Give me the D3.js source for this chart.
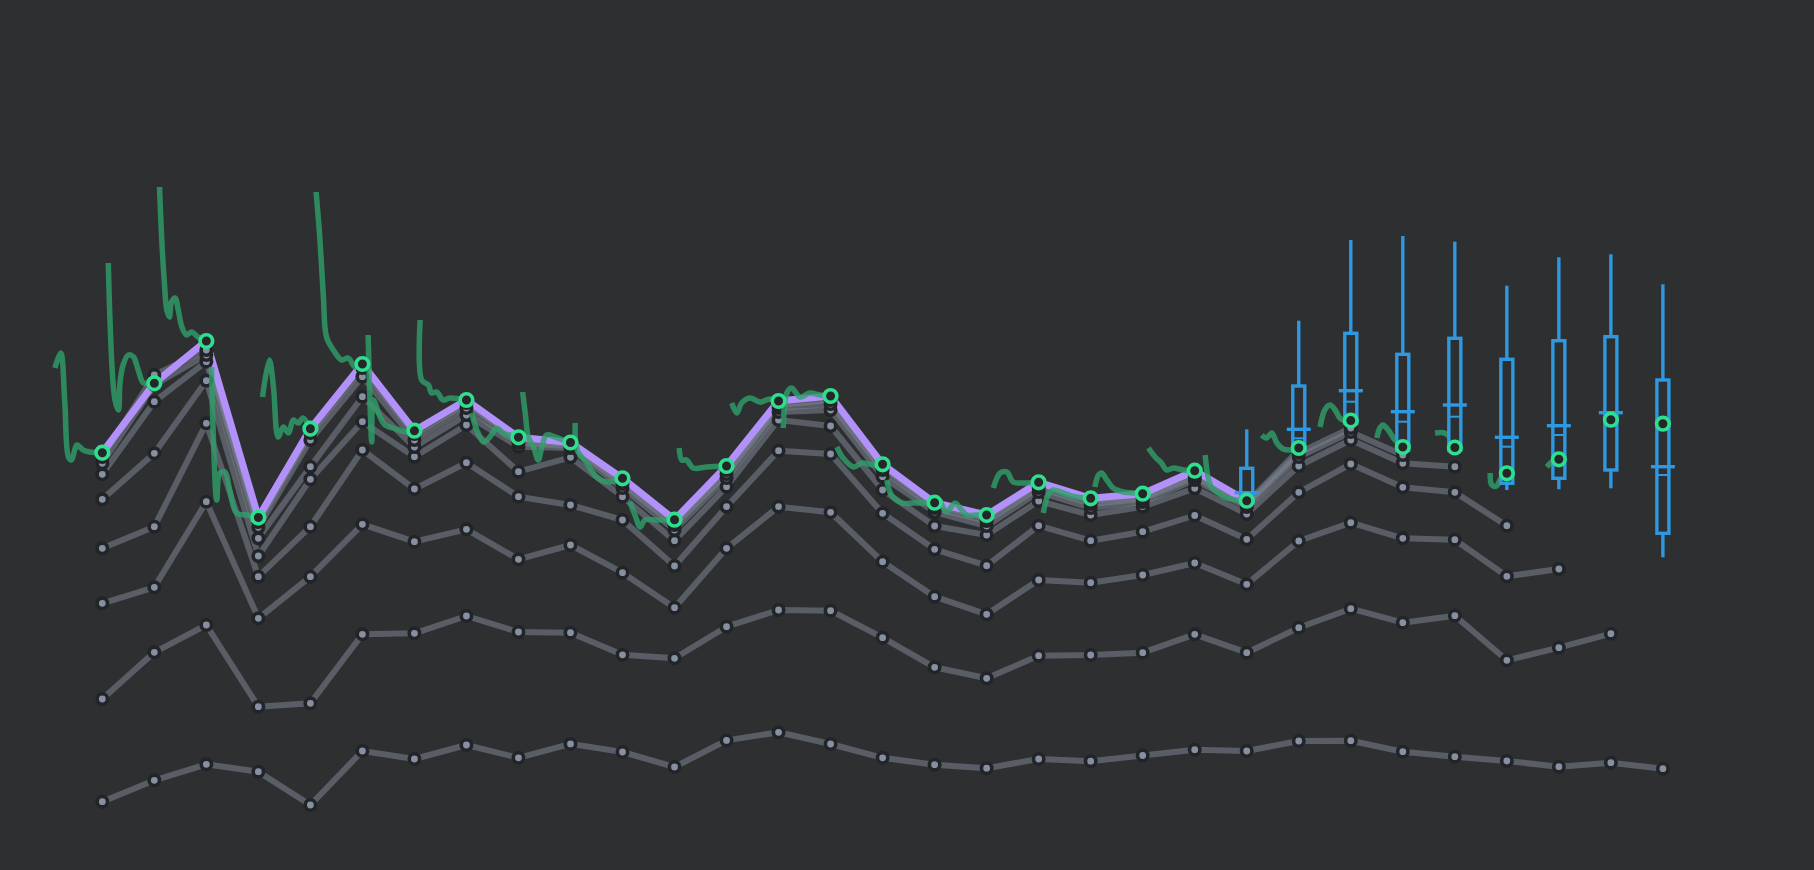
<!DOCTYPE html>
<html><head><meta charset="utf-8">
<script src="https://cdn.jsdelivr.net/npm/d3@7"></script>
<style>html,body{margin:0;padding:0;background:#2e2f31;overflow:hidden}</style>
</head><body><svg id="chart" width="1814" height="870"></svg>
<script>
// ---- data (values in chart units) ----
const periods = d3.range(31);

const current = [417.3, 486.7, 529, 352.5, 441.3, 506, 439.3, 470, 432.7, 427.5, 391.7, 350.3, 404, 469, 474, 405.7, 367.3, 355, 387.7, 371.7, 376.3, 399.3, 369.3];
const outlookStart = 23;
const outlook = [422, 449.5, 423, 422.5, 396.7, 410.7, 450.3, 446.3];

const vintage1 = [68.3, 89.7, 105.7, 98.3, 65, 119, 111, 125, 112.2, 126.1, 118, 103, 129.6, 137.7, 126, 112.2, 105.3, 101.8, 111, 108.8, 114.5, 120.3, 119, 129, 129.3, 118.3, 113.3, 109, 103.3, 107.3, 101.3];
const vintage2 = [171, 217.7, 245, 163.3, 166.7, 235.7, 236.7, 254, 238, 237.3, 215.2, 211.7, 243.3, 260, 259.3, 232.3, 202.7, 191.7, 214.3, 215, 217.3, 235.7, 217.3, 242.3, 261.3, 247.3, 254.3, 209.7, 222.3, 236.3];
const vintage3 = [266.7, 282.7, 368.3, 251.7, 293.3, 345.7, 328.3, 340.7, 310.7, 325, 297.3, 262.3, 321.7, 363.3, 357.7, 308.3, 273.3, 255.7, 290, 287.3, 295, 307, 285.7, 329, 347.3, 331.7, 330.3, 293.7, 301];
const vintage4 = [321.7, 343.3, 446.7, 293.3, 343.3, 420, 381, 407.3, 373.3, 365, 350, 304, 363.3, 419.3, 416, 356.7, 320.7, 304.3, 344.3, 329.3, 338.3, 354.5, 330.7, 377.7, 406, 382.7, 377.7, 344.3];
const vintage5 = [370.7, 416.7, 489.3, 314, 390.7, 448.3, 413.3, 445, 398.3, 412.7, 373.3, 329.3, 383.3, 450, 444, 380, 344, 335, 369, 355, 363.3, 381.7, 356, 404, 430, 406.7, 403.3];
const vintage6 = [395.7, 468.3, 508.3, 331.7, 403.3, 473.3, 423, 455, 423.3, 422, 382, 340, 392, 458, 460, 393.3, 358, 344, 378, 362, 368, 390, 363, 413, 438, 415];
const vintage7 = [406.7, 485, 515, 342.7, 430, 493.3, 430, 462, 427, 424, 386, 345, 396, 462, 466, 400, 362, 349, 382, 366, 371, 393, 365, 417, 442];
const vintage8 = [413, 495, 520, 348, 437, 502, 436, 467, 430, 426, 389, 348, 400, 465, 470, 403, 365, 352, 385, 369, 373, 396, 367, 420];

const boxPeriods  = [22, 23, 24, 25, 26, 27, 28, 29, 30];
const whiskerHigh = [440.7, 549.3, 630, 634, 628.3, 584.3, 612.7, 615.7, 585.7];
const quartile3   = [401.7, 484, 536.7, 515.7, 531.7, 510.7, 529.3, 533.3, 490];
const meanVals    = [377.3, 440.7, 479.3, 458.3, 465, 432.7, 444.3, 457.3, 403.3];
const medianVals  = [373, 431.7, 468.3, 448.3, 453.3, 423.3, 435, 449, 395];
const quartile1   = [368, 419, 447, 420, 420, 386.7, 391.7, 400, 336.7];
const whiskerLow  = [365, 415, 444, 417, 417, 380, 380.7, 381.7, 312.7];

// intra-period paths: [offset within period (periods before the close), value]
const intraPeriod = [
 [[-0.91,502],[-0.8,517],[-0.72,467],[-0.65,413],[-0.59,410],[-0.49,425],[-0.37,420],[-0.24,418],[0,417.3]],
 [[-0.885,607],[-0.756,470],[-0.69,460],[-0.66,487],[-0.6,505],[-0.5,515],[-0.4,513],[-0.31,500],[-0.21,487],[-0.12,487],[0,486.7]],
 [[-0.9,683],[-0.86,633],[-0.81,590],[-0.76,560],[-0.71,553],[-0.67,568],[-0.6,572],[-0.54,560],[-0.47,543],[-0.38,535],[-0.28,538],[-0.16,533],[0,529]],
 [[-0.9,503],[-0.87,440],[-0.8,370],[-0.74,397],[-0.64,398],[-0.55,380],[-0.42,357],[-0.22,355],[0,352.5]],
 [[-0.92,473],[-0.79,510],[-0.71,483],[-0.62,433],[-0.52,443],[-0.42,437],[-0.33,450],[-0.23,447],[-0.14,452],[0,441.3]],
 [[-0.89,678],[-0.82,633],[-0.75,573],[-0.69,533],[-0.56,520],[-0.4,510],[-0.27,512],[-0.14,503],[0,506]],
 [[-0.89,535],[-0.82,428],[-0.79,470],[-0.66,453],[-0.57,445],[-0.41,442],[-0.15,438],[0,439.3]],
 [[-0.89,550],[-0.86,490],[-0.73,485],[-0.67,477],[-0.57,478],[-0.45,470],[-0.32,472],[0,470]],
 [[-0.9,457],[-0.8,440],[-0.67,428],[-0.55,433],[-0.42,442],[-0.29,437],[0,432.7]],
 [[-0.92,478],[-0.87,457],[-0.81,433],[-0.71,423],[-0.62,410],[-0.55,423],[-0.46,435],[-0.3,433],[-0.14,430],[0,427.5]],
 [[-0.91,447],[-0.87,420],[-0.69,407],[-0.5,393],[-0.3,388],[0,391.7]],
 [[-0.86,368],[-0.76,355],[-0.66,343],[-0.57,350],[-0.34,350],[-0.15,350],[0,350.3]],
 [[-0.91,422],[-0.86,410],[-0.77,410],[-0.64,402],[-0.38,403],[0,404]],
 [[-0.9,467],[-0.8,457],[-0.71,467],[-0.55,472],[-0.36,468],[-0.17,471],[0,469]],
 [[-0.91,442],[-0.84,477],[-0.75,482],[-0.59,473],[-0.4,477],[-0.2,475],[0,474]],
 [[-0.88,423],[-0.76,412],[-0.56,403],[-0.4,407],[-0.18,405],[0,405.7]],
 [[-0.92,390],[-0.83,375],[-0.63,367],[-0.41,367],[-0.15,367],[0,367.3]],
 [[-0.9,370],[-0.77,358],[-0.61,367],[-0.51,362],[-0.38,355],[-0.19,355],[0,355]],
 [[-0.87,382],[-0.74,397],[-0.61,398],[-0.49,388],[-0.3,387],[0,387.7]],
 [[-0.91,357],[-0.82,375],[-0.72,380],[-0.53,377],[-0.27,373],[0,371.7]],
 [[-0.92,383],[-0.85,395],[-0.79,397],[-0.69,390],[-0.57,382],[-0.37,378],[-0.18,377],[0,376.3]],
 [[-0.89,422],[-0.76,413],[-0.64,407],[-0.54,400],[-0.41,402],[-0.22,400],[0,399.3]],
 [[-0.8,415],[-0.74,392],[-0.67,382],[-0.55,377],[-0.39,372],[-0.19,370],[0,369.3]],
 [[-0.71,435],[-0.62,432],[-0.52,437],[-0.42,427],[-0.3,421],[-0.17,420],[0,421.7]],
 [[-0.59,443],[-0.5,460],[-0.4,465],[-0.3,460],[-0.21,452],[-0.11,449],[0,449.3]],
 [[-0.5,432],[-0.44,442],[-0.38,445],[-0.28,440],[-0.18,432],[-0.09,427],[0,423.3]],
 [[-0.38,437],[-0.22,437.3],[-0.13,435],[-0.06,428],[0,422.5]],
 [[-0.32,397],[-0.29,385],[-0.2,384],[-0.1,393],[0,396.7]],
 [[-0.23,403],[-0.14,408],[0,410.7]]
];

// ---- drawing ----
const W = 1814, H = 870;
const BG = "#2e2f31";
const svg = d3.select("#chart");
svg.append("rect").attr("width", W).attr("height", H).attr("fill", BG);

const x = d3.scaleLinear().domain([0, periods.length - 1]).range([102.3, 1662.9]);
const y = d3.scaleLinear().domain([0, 870]).range([H, 0]);

const vintages = [vintage1, vintage2, vintage3, vintage4, vintage5, vintage6, vintage7, vintage8];
const seriesLine = d3.line().x((d, i) => x(i)).y(d => y(d));

const gLines = svg.append("g");
vintages.forEach(v => {
  gLines.append("path").attr("d", seriesLine(v))
    .attr("fill", "none").attr("stroke", "rgb(124,132,145)").attr("stroke-opacity", 0.55)
    .attr("stroke-width", 6).attr("stroke-linejoin", "round").attr("stroke-linecap", "round");
});

svg.append("path").attr("d", seriesLine(current))
  .attr("fill", "none").attr("stroke", "#b391fa").attr("stroke-width", 7)
  .attr("stroke-linejoin", "round").attr("stroke-linecap", "round");

const gDots = svg.append("g");
vintages.forEach(v => {
  gDots.selectAll(null).data(v).enter().append("circle")
    .attr("cx", (d, i) => x(i)).attr("cy", d => y(d)).attr("r", 5.2)
    .attr("fill", "#8591a3").attr("stroke", "#232427").attr("stroke-width", 3.6);
});

const pathLine = d3.line().curve(d3.curveCatmullRom.alpha(0.5));
const gIntra = svg.append("g");
intraPeriod.forEach((pts, end) => {
  gIntra.append("path")
    .attr("d", pathLine(pts.map(p => [x(end + p[0]), y(p[1])])))
    .attr("fill", "none").attr("stroke", "#2fa06b").attr("stroke-opacity", 0.8)
    .attr("stroke-width", 5.5).attr("stroke-linejoin", "round").attr("stroke-linecap", "butt");
});

const BLUE = "#2e98e0";
const gBox = svg.append("g");
boxPeriods.forEach((p, k) => {
  const cx = x(p);
  gBox.append("line").attr("x1", cx).attr("x2", cx).attr("y1", y(whiskerHigh[k])).attr("y2", y(quartile3[k]))
    .attr("stroke", BLUE).attr("stroke-width", 3.4);
  gBox.append("line").attr("x1", cx).attr("x2", cx).attr("y1", y(quartile1[k])).attr("y2", y(whiskerLow[k]))
    .attr("stroke", BLUE).attr("stroke-width", 3.4);
  gBox.append("rect").attr("x", cx - 6).attr("width", 12)
    .attr("y", y(quartile3[k])).attr("height", y(quartile1[k]) - y(quartile3[k]))
    .attr("fill", BG).attr("stroke", BLUE).attr("stroke-width", 3.4);
  gBox.append("line").attr("x1", cx - 6).attr("x2", cx + 6).attr("y1", y(medianVals[k])).attr("y2", y(medianVals[k]))
    .attr("stroke", BLUE).attr("stroke-width", 2);
  gBox.append("line").attr("x1", cx - 12).attr("x2", cx + 12).attr("y1", y(meanVals[k])).attr("y2", y(meanVals[k]))
    .attr("stroke", BLUE).attr("stroke-width", 3.4);
});

const ringData = current.map((v, i) => ({i, v})).concat(outlook.map((v, k) => ({i: outlookStart + k, v})));
svg.append("g").selectAll("circle").data(ringData).enter().append("circle")
  .attr("cx", d => x(d.i)).attr("cy", d => y(d.v)).attr("r", 6.3)
  .attr("fill", "#25262a").attr("stroke", "#2ee08e").attr("stroke-width", 3.6);
</script>
</body></html>
